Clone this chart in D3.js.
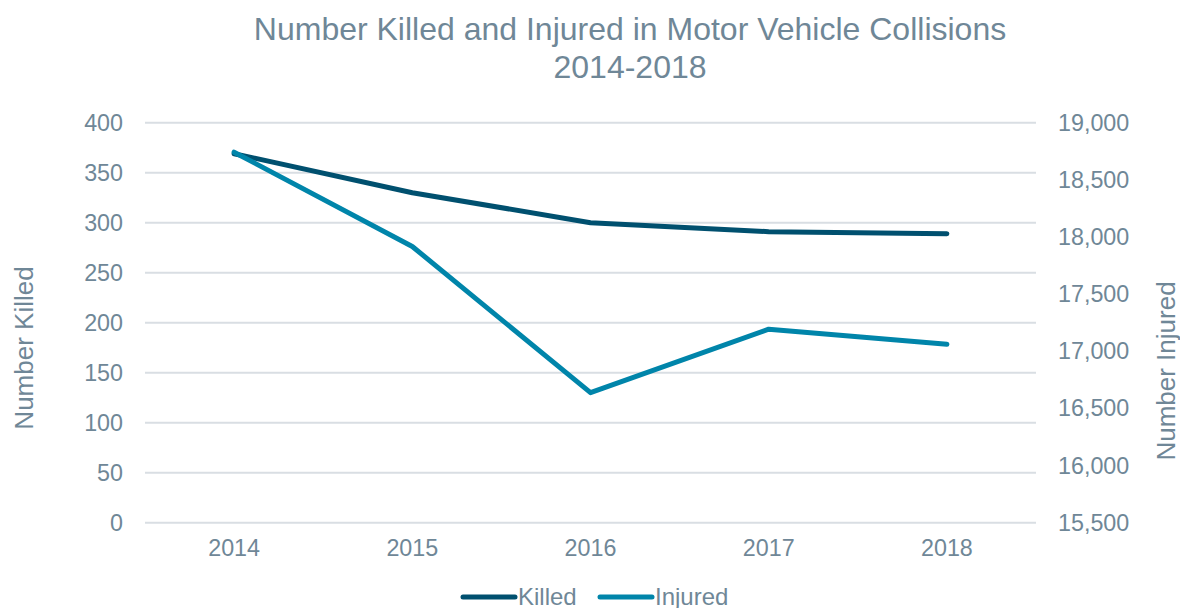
<!DOCTYPE html>
<html><head><meta charset="utf-8">
<script src="https://cdn.jsdelivr.net/npm/d3@7"></script>
<style>body{margin:0;background:#fff}svg{display:block;font-family:"Liberation Sans",Arial,sans-serif}</style>
</head><body><svg id="c" width="1180" height="608"></svg>
<script>
const years = ["2014","2015","2016","2017","2018"];
const killed = [369, 330, 300, 291, 289];
const injured = [18742, 17917, 16638, 17193, 17062];
const leftTicks = [0,50,100,150,200,250,300,350,400];
const rightTicks = [15500,16000,16500,17000,17500,18000,18500,19000];
const titleLines = ["Number Killed and Injured in Motor Vehicle Collisions","2014-2018"];
const seriesNames = ["Killed","Injured"];
const colors = ["#00506f","#0085aa"];
const textColor = "#6f8797";

const svg = d3.select("#c");
const L = 145, R = 1036, T = 122.7, B = 522.7;
const x = d3.scaleBand().domain(years).range([L,R]);
const yL = d3.scaleLinear().domain([0,400]).range([B,T]);
const yR = d3.scaleLinear().domain([15500,19000]).range([B,T]);
const FF = "Liberation Sans, Arial, sans-serif";
const TS = 23.3;

// gridlines
svg.append("g").selectAll("line").data(leftTicks).join("line")
  .attr("x1",L).attr("x2",R).attr("y1",d=>yL(d)).attr("y2",d=>yL(d))
  .attr("stroke","#d9dee3").attr("stroke-width",2);

const gl = svg.append("g").attr("transform",`translate(${L},0)`)
  .call(d3.axisLeft(yL).tickValues(leftTicks).tickSize(0).tickPadding(22));
gl.select(".domain").remove();
gl.selectAll("text").attr("font-size",TS).attr("fill",textColor).attr("font-family",FF);

const gr = svg.append("g").attr("transform",`translate(${R},0)`)
  .call(d3.axisRight(yR).tickValues(rightTicks).tickSize(0).tickPadding(22).tickFormat(d3.format(",")));
gr.select(".domain").remove();
gr.selectAll("text").attr("font-size",TS).attr("fill",textColor).attr("font-family",FF);

const gx = svg.append("g").attr("transform",`translate(0,${B})`)
  .call(d3.axisBottom(x).tickSize(0).tickPadding(17));
gx.select(".domain").remove();
gx.selectAll("text").attr("font-size",TS).attr("fill",textColor).attr("font-family",FF);

// titles
svg.append("g").selectAll("text").data(titleLines).join("text")
  .attr("x",630).attr("y",(d,i)=>40+i*38).attr("text-anchor","middle")
  .attr("font-size",32).attr("fill",textColor).text(d=>d);

svg.append("text").attr("transform","translate(33,348) rotate(-90)")
  .attr("text-anchor","middle").attr("font-size",26).attr("fill",textColor).text("Number Killed");
svg.append("text").attr("transform","translate(1175,371) rotate(-90)")
  .attr("text-anchor","middle").attr("font-size",26).attr("fill",textColor).text("Number Injured");

// lines
const cx = d => x(d) + x.bandwidth()/2;
const lineK = d3.line().x((d,i)=>cx(years[i])).y(d=>yL(d));
const lineI = d3.line().x((d,i)=>cx(years[i])).y(d=>yR(d));
svg.append("path").datum(killed).attr("d",lineK).attr("fill","none")
  .attr("stroke",colors[0]).attr("stroke-width",5).attr("stroke-linecap","round").attr("stroke-linejoin","round");
svg.append("path").datum(injured).attr("d",lineI).attr("fill","none")
  .attr("stroke",colors[1]).attr("stroke-width",5).attr("stroke-linecap","round").attr("stroke-linejoin","round");

// legend
const lg = svg.append("g");
const lx = [463, 600];
seriesNames.forEach((n,i)=>{
  lg.append("line").attr("x1",lx[i]).attr("x2",lx[i]+52).attr("y1",597).attr("y2",597)
    .attr("stroke",colors[i]).attr("stroke-width",5).attr("stroke-linecap","round");
  lg.append("text").attr("x",lx[i]+55).attr("y",605).attr("font-size",24).attr("fill",textColor).attr("font-family",FF).text(n);
});
</script></body></html>
